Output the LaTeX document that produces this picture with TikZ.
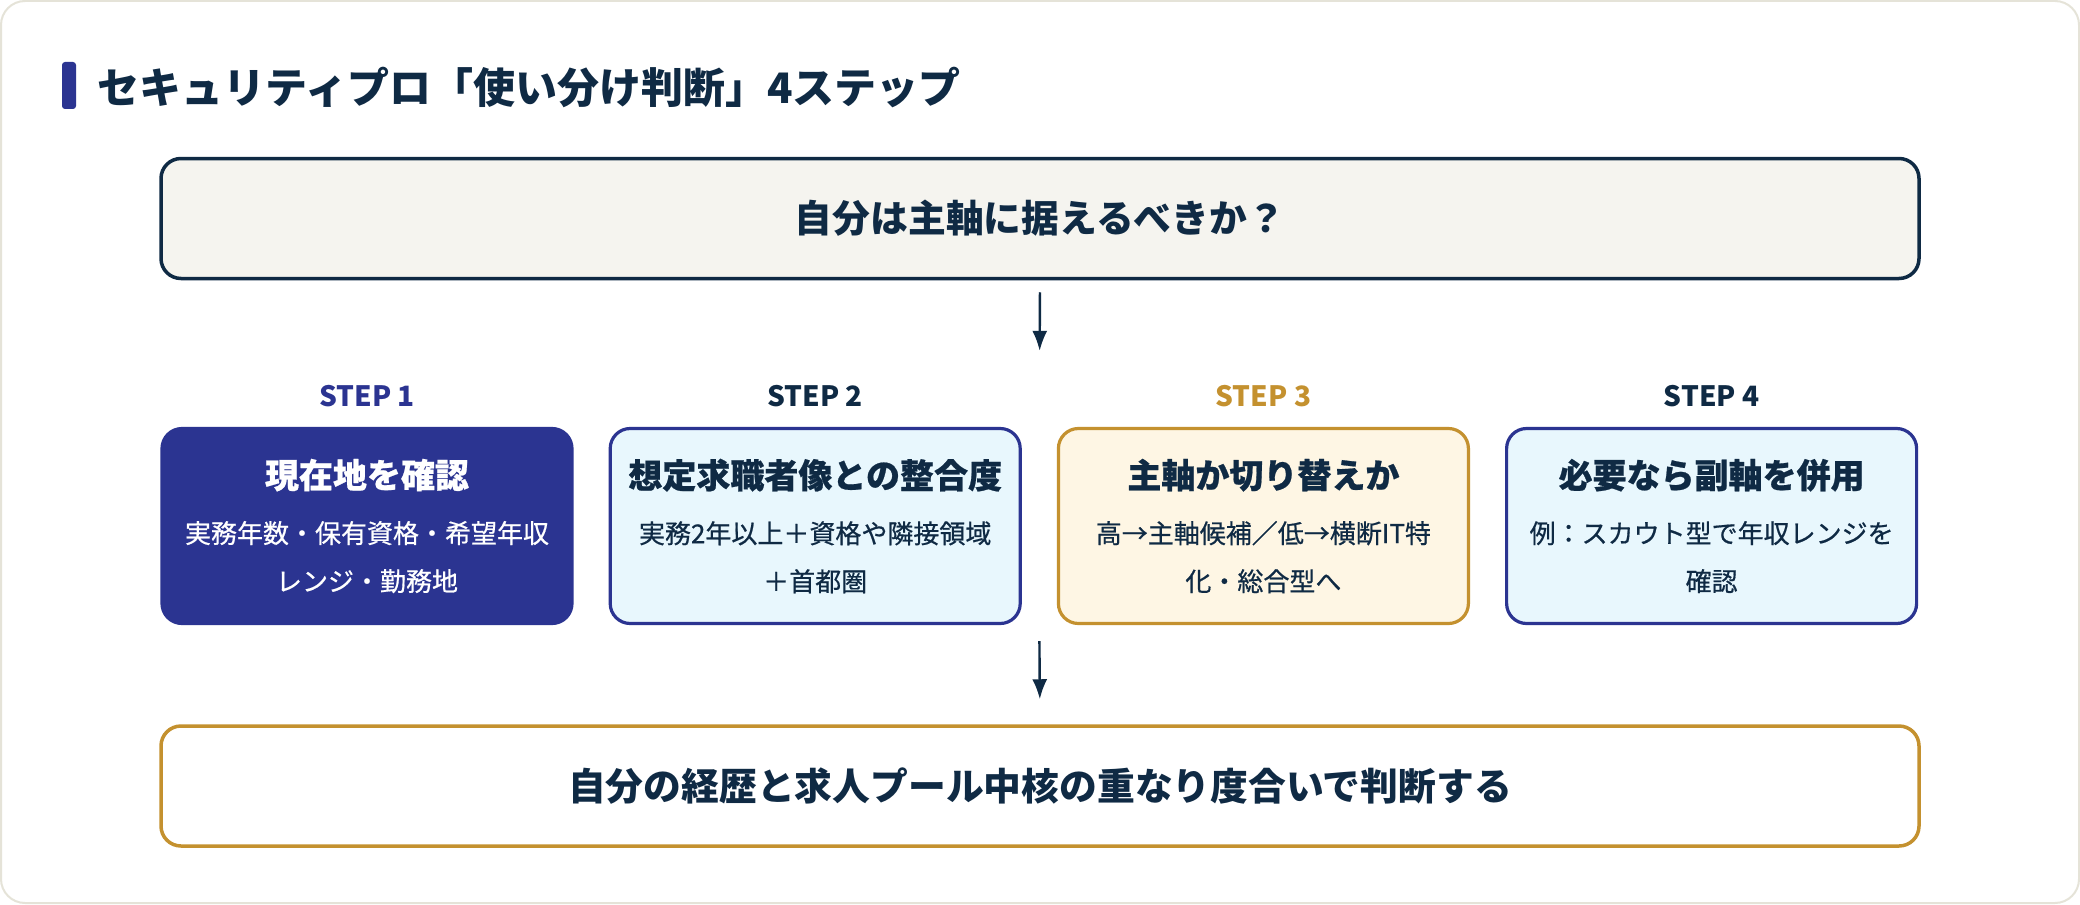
\documentclass[tikz,border=0pt]{standalone}
\usepackage{fontspec}
\setmainfont{Noto Sans CJK JP}
\newfontfamily\medium{Noto Sans CJK JP}[FakeBold=0.6]
\usetikzlibrary{arrows.meta,positioning,calc}
\definecolor{navy}{HTML}{0F2A44}
\definecolor{indigo}{HTML}{2B3491}
\definecolor{gold}{HTML}{C4912F}
\definecolor{cream}{HTML}{FEF6E4}
\definecolor{paleblue}{HTML}{E8F7FD}
\definecolor{paper}{HTML}{F5F4EF}
\definecolor{edge}{HTML}{E5E3D8}

\begin{document}
\begin{tikzpicture}[
    x=1pt, y=1pt,
    node distance=17.5pt,
    bigbox/.style={draw, line width=1.75pt, rounded corners=10pt, minimum width=879pt, minimum height=60pt, text=navy, font=\fontsize{18.9}{22}\selectfont\bfseries},
    stepbox/.style={draw=indigo, fill=paleblue, line width=1.6pt, rounded corners=10pt, minimum width=205pt, minimum height=97.5pt, align=center, text=navy, font=\fontsize{13}{24}\selectfont\medium},
    steplbl/.style={inner sep=0pt, font=\fontsize{14}{16}\selectfont\bfseries},
    flow/.style={draw=navy, line width=1.2pt, -{Latex[length=10pt,width=7.5pt]}}
]
\useasboundingbox (0,0) rectangle (1040,-452);
\draw[edge, fill=white, line width=1pt, rounded corners=12pt] (0.5,-0.5) rectangle (1039.5,-451.5);

% title
\node[fill=indigo, rounded corners=1.5pt, inner sep=0pt, minimum width=7pt, minimum height=23.5pt] (bar) at (34.5,-42.75) {};
\node[anchor=west, inner sep=0pt, text=navy, font=\fontsize{21}{24}\selectfont\bfseries] (ttl) at ($(bar.east)+(10.5pt,-1pt)$) {セキュリティプロ「使い分け判断」4ステップ};

% question
\node[bigbox, draw=navy, fill=paper] (q) at (520,-109.25) {自分は主軸に据えるべきか？};

% steps
\node[stepbox, fill=indigo, text=white] (s1) at (183.5,-263) {{\fontsize{17}{24}\selectfont\bfseries 現在地を確認}\\[3.5pt]実務年数・保有資格・希望年収\\レンジ・勤務地};
\node[stepbox, right=of s1] (s2) {{\fontsize{17}{24}\selectfont\bfseries 想定求職者像との整合度}\\[3.5pt]実務2年以上＋資格や隣接領域\\＋首都圏};
\node[stepbox, draw=gold, fill=cream, right=of s2] (s3) {{\fontsize{17}{24}\selectfont\bfseries 主軸か切り替えか}\\[3.5pt]高→主軸候補／低→横断IT特\\化・総合型へ};
\node[stepbox, right=of s3] (s4) {{\fontsize{17}{24}\selectfont\bfseries 必要なら副軸を併用}\\[3.5pt]例：スカウト型で年収レンジを\\確認};

\node[steplbl, text=indigo, above=10pt of s1] (l1) {STEP 1};
\node[steplbl, text=navy, above=10pt of s2] (l2) {STEP 2};
\node[steplbl, text=gold, above=10pt of s3] (l3) {STEP 3};
\node[steplbl, text=navy, above=10pt of s4] (l4) {STEP 4};

% result
\node[bigbox, draw=gold, fill=white] (res) at (520,-393) {自分の経歴と求人プール中核の重なり度合いで判断する};

\coordinate (top23) at ($(s2.north)!0.5!(s3.north)$);
\coordinate (bot23) at ($(s2.south)!0.5!(s3.south)$);
\draw[flow, shorten <=6pt, shorten >=38pt] (q.south) -- (top23);
\draw[flow, shorten <=8pt, shorten >=12.5pt] (bot23) -- (res.north);
\end{tikzpicture}
\end{document}
